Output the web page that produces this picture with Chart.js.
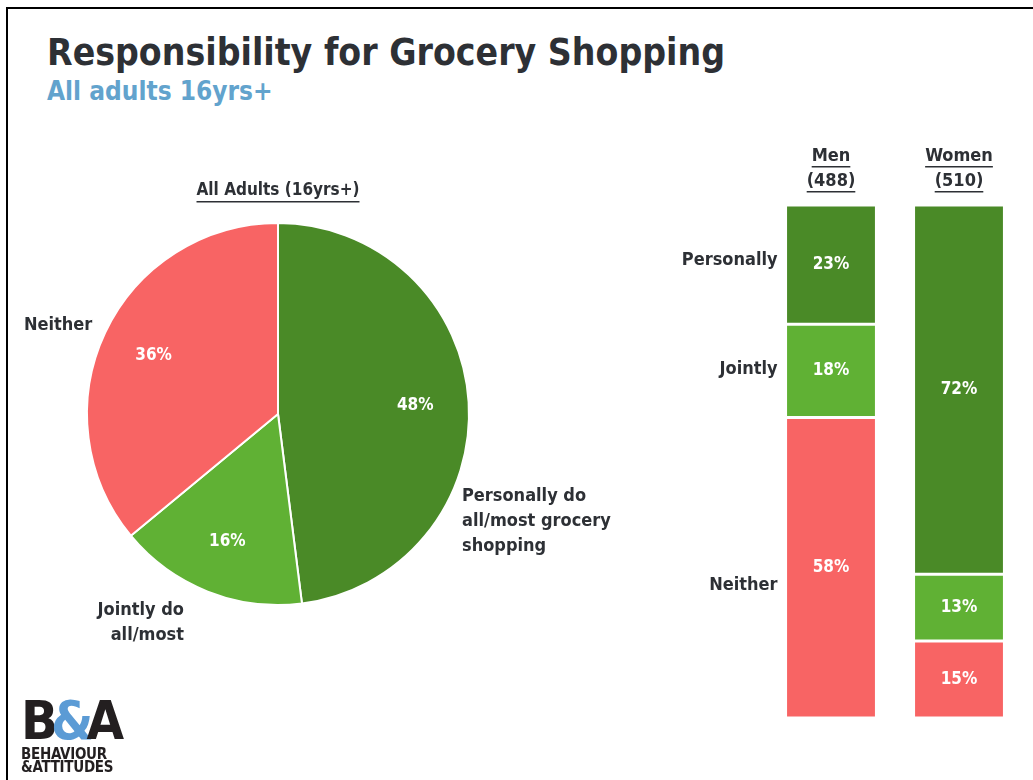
<!DOCTYPE html>
<html lang="en">
<head>
  <meta charset="UTF-8" />
  <title>Responsibility for Grocery Shopping</title>
  <script src="https://cdn.jsdelivr.net/npm/chart.js"></script>
  <style>
    body {
      margin: 0;
      width: 1033px;
      height: 780px;
      overflow: hidden;
      background: #fff;
      position: relative;
      font-family: "DejaVu Sans Condensed", "DejaVu Sans", sans-serif;
      font-stretch: condensed;
      color: #2d3035;
    }
    .frame {
      position: absolute;
      left: 6px;
      top: 7px;
      width: 1100px;
      height: 900px;
      border: 2px solid #000;
    }
    h1 {
      position: absolute;
      left: 47px;
      top: 31px;
      margin: 0;
      font-size: 37px;
      font-weight: bold;
      white-space: nowrap;
    }
    h2 {
      position: absolute;
      left: 47px;
      top: 76px;
      margin: 0;
      font-size: 26px;
      font-weight: bold;
      color: #62a3cd;
    }
    canvas { position: absolute; }
    #pie { left: 0; top: 130px; }
    #bars { left: 660px; top: 130px; }
    .logo {
      position: absolute;
      left: 21px;
      top: 694px;
      font-family: "DejaVu Sans", sans-serif;
      font-weight: bold;
      color: #231f20;
      line-height: 1;
    }
    .logo .mark { font-size: 54px; letter-spacing: -7px; }
    .logo .mark span { color: #5b9bd5; }
    .logo .name { font-size: 15px; letter-spacing: -0.3px; line-height: 13px; }
  </style>
</head>
<body>
  <div class="frame"></div>
  <h1>Responsibility for Grocery Shopping</h1>
  <h2>All adults 16yrs+</h2>
  <canvas id="pie" width="660" height="560"></canvas>
  <canvas id="bars" width="373" height="620"></canvas>
  <div class="logo">
    <div class="mark">B<span>&amp;</span>A</div>
    <div class="name">BEHAVIOUR<br>&amp;ATTITUDES</div>
  </div>

  <script>
    // all adults
    const pieTitle = 'All Adults (16yrs+)';
    const pieLabels = [['Personally do', 'all/most grocery', 'shopping'], ['Jointly do', 'all/most'], ['Neither']];
    const pieValues = [48, 16, 36];

    // split by gender
    const groups = ['Men', 'Women'];
    const groupBases = ['(488)', '(510)'];
    const answers = ['Personally', 'Jointly', 'Neither'];
    const personally = [23, 72];
    const jointly = [18, 13];
    const neither = [58, 15];

    const DARK_GREEN = '#4a8a27';
    const LIGHT_GREEN = '#60b134';
    const RED = '#f86464';
    const TEXT = '#2d3035';
    const FONT = "'DejaVu Sans Condensed', 'DejaVu Sans', sans-serif";
    const colors = [DARK_GREEN, LIGHT_GREEN, RED];

    Chart.defaults.font.family = FONT;

    function underlined(ctx, text, x, y) {
      ctx.fillText(text, x, y);
      const w = ctx.measureText(text).width;
      ctx.fillRect(x - w / 2, y + 10, w, 1.5);
    }

    // labels inside slices + callouts around the pie + heading
    const pieText = {
      id: 'pieText',
      afterDatasetsDraw(chart) {
        const ctx = chart.ctx;
        const arcs = chart.getDatasetMeta(0).data;
        // callout offsets from the pie centre: [x, y, align]
        const callouts = [[184, 82, 'left'], [-94, 196, 'right'], [-254, -89, 'left']];
        ctx.save();
        ctx.textBaseline = 'middle';
        arcs.forEach((arc, i) => {
          const mid = (arc.startAngle + arc.endAngle) / 2;
          const r = arc.outerRadius * 0.72;
          ctx.fillStyle = '#fff';
          ctx.font = `bold 17px ${FONT}`;
          ctx.textAlign = 'center';
          ctx.fillText(pieValues[i] + '%', arc.x + Math.cos(mid) * r, arc.y + Math.sin(mid) * r);

          const [dx, dy, align] = callouts[i];
          ctx.fillStyle = TEXT;
          ctx.font = `bold 18px ${FONT}`;
          ctx.textAlign = align;
          pieLabels[i].forEach((line, j) => ctx.fillText(line, arc.x + dx, arc.y + dy + j * 25));
        });
        const c = arcs[0];
        ctx.textAlign = 'center';
        ctx.font = `bold 17px ${FONT}`;
        underlined(ctx, pieTitle, c.x, c.y - c.outerRadius - 32);
        ctx.restore();
      }
    };

    new Chart(document.getElementById('pie'), {
      type: 'pie',
      data: {
        labels: pieLabels.map(l => l.join(' ')),
        datasets: [{
          data: pieValues,
          backgroundColor: colors,
          borderColor: '#fff',
          borderWidth: 2
        }]
      },
      options: {
        responsive: false,
        animation: false,
        layout: { padding: { left: 86, top: 92, right: 190, bottom: 84 } },
        plugins: { legend: { display: false }, tooltip: { enabled: false } }
      },
      plugins: [pieText]
    });

    // each bar is drawn as a share of its own total so both fill the column
    const rows = [personally, jointly, neither];
    const totals = groups.map((g, i) => rows.reduce((s, r) => s + r[i], 0));

    const barText = {
      id: 'barText',
      afterDatasetsDraw(chart) {
        const ctx = chart.ctx;
        const nudge = [-4, -1, 18];
        ctx.save();
        ctx.textBaseline = 'middle';
        chart.data.datasets.forEach((ds, d) => {
          chart.getDatasetMeta(d).data.forEach((bar, i) => {
            const mid = (bar.y + bar.base) / 2;
            ctx.fillStyle = '#fff';
            ctx.font = `bold 17px ${FONT}`;
            ctx.textAlign = 'center';
            ctx.fillText(rows[d][i] + '%', bar.x, mid);
            if (i === 0) {
              ctx.fillStyle = TEXT;
              ctx.font = `bold 18px ${FONT}`;
              ctx.textAlign = 'right';
              ctx.fillText(answers[d], bar.x - bar.width / 2 - 8, mid + nudge[d]);
            }
          });
        });
        ctx.fillStyle = TEXT;
        ctx.font = `bold 18px ${FONT}`;
        ctx.textAlign = 'center';
        chart.getDatasetMeta(0).data.forEach((bar, i) => {
          underlined(ctx, groups[i], bar.x, chart.chartArea.top - 49);
          underlined(ctx, groupBases[i], bar.x, chart.chartArea.top - 24);
        });
        ctx.restore();
      }
    };

    new Chart(document.getElementById('bars'), {
      type: 'bar',
      data: {
        labels: groups,
        datasets: answers.map((a, d) => ({
          label: a,
          data: rows[d].map((v, i) => v / totals[i] * 100),
          backgroundColor: colors[d],
          borderColor: '#fff',
          borderWidth: 1.5,
          borderSkipped: false,
          categoryPercentage: 1,
          barPercentage: 0.71
        }))
      },
      options: {
        responsive: false,
        animation: false,
        layout: { padding: { left: 107, right: 10, top: 75, bottom: 32 } },
        scales: {
          x: { stacked: true, display: false },
          y: { stacked: true, display: false, reverse: true, min: 0, max: 100 }
        },
        plugins: { legend: { display: false }, tooltip: { enabled: false } }
      },
      plugins: [barText]
    });
  </script>
</body>
</html>
